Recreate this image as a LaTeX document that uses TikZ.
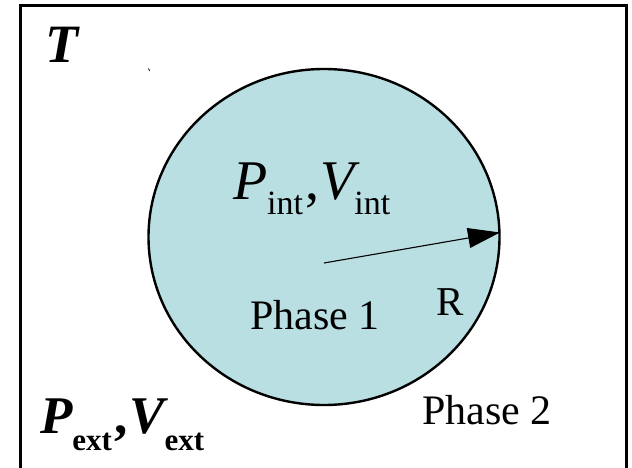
\documentclass[tikz,border=0pt]{standalone}
\usepackage{fontspec}
\setmainfont{Liberation Serif}
\usetikzlibrary{arrows.meta}
\definecolor{phaseblue}{RGB}{185,223,227}
\newcommand{\fs}[1]{\fontsize{#1}{#1}\selectfont}
\tikzset{
  lbl/.style={anchor=base west, inner sep=0pt, outer sep=0pt},
  frame/.style={draw=black, line width=3pt},
  phase/.style={draw=black, line width=2.4pt, fill=phaseblue},
  radius arrow/.style={draw=black, line width=1.1pt, -{Triangle[length=32pt,width=20pt]}}
}
\begin{document}
\begin{tikzpicture}[x=1pt,y=-1pt]
\useasboundingbox (0,0) rectangle (632,468);
\draw[frame] (20.5,5.5) rectangle (626,469);
\path[phase] (324,237) ellipse [x radius=175.5, y radius=168];
\coordinate (c) at (324,263);
\coordinate (rim) at (500,232.5);
\draw[radius arrow] (c) -- (rim);
\draw[line width=0.8pt] (148.5,68.5) -- (149.6,71);
\node[lbl] (T) at (45,63) {\fs{54}\bfseries\itshape T};
\node[lbl] (pint) at (233,200) {\fs{56}\itshape P\raisebox{-14pt}{\fs{34}\upshape int}\hspace{2pt}\upshape,\hspace{1pt}\itshape V\raisebox{-14pt}{\fs{34}\upshape int}};
\node[lbl] (ph1) at (250,329) {\fs{42}Phase 1};
\node[lbl] (R) at (436,315) {\fs{41}R};
\node[lbl] (ph2) at (422,424) {\fs{42}Phase 2};
\node[lbl] (pext) at (40,433) {\fs{53}\bfseries\itshape P\raisebox{-17pt}{\fs{31}\upshape ext}\hspace{3pt}\upshape,\hspace{1pt}\itshape V\raisebox{-17pt}{\fs{31}\upshape ext}};
\end{tikzpicture}
\end{document}
